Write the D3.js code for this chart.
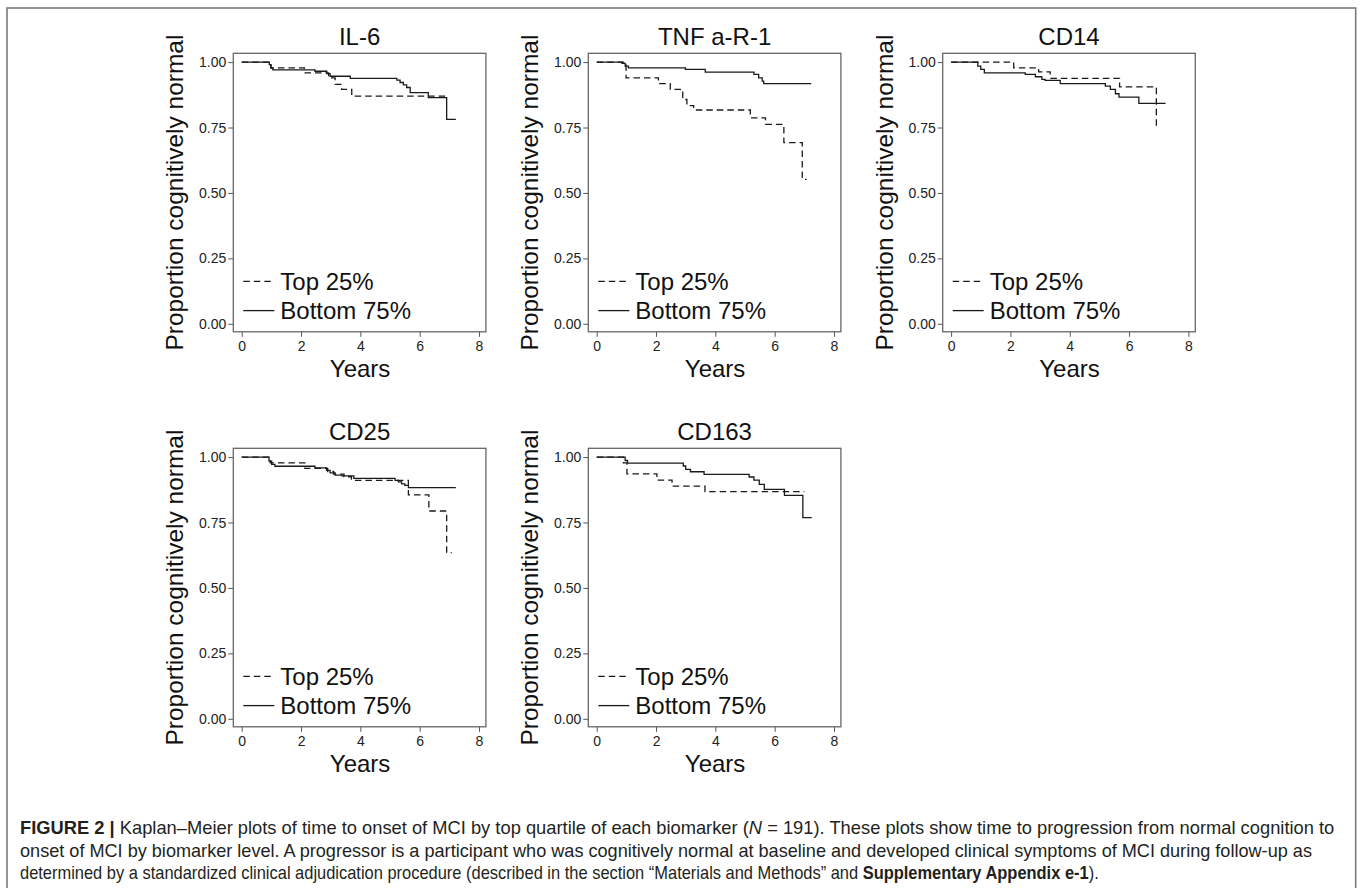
<!DOCTYPE html>
<html><head><meta charset="utf-8">
<script src="https://cdn.jsdelivr.net/npm/d3@7"></script>
<style>
html,body{margin:0;padding:0;background:#fff;}
svg{display:block;}
</style>
</head><body>
<svg id="chart" width="1360" height="888"></svg>
<script>
// ---------- DATA ----------
const panelTitles = ["IL-6", "TNF a-R-1", "CD14", "CD25", "CD163"];
const seriesNames = ["Top 25%", "Bottom 75%"];
const xTicks = [0, 2, 4, 6, 8];
const yTicks = [0, 0.25, 0.5, 0.75, 1];

// Kaplan–Meier step points [years, proportion]; last point marks end of follow-up
const il6Top = [[0,1],[0.99,0.978],[2.11,0.959],[2.93,0.94],[3.15,0.915],[3.37,0.896],[3.71,0.870],[6.97,0.870]];
const il6Bottom = [[0,1],[0.93,0.99],[0.98,0.977],[1.05,0.970],[2.47,0.965],[2.87,0.956],[2.98,0.946],[3.66,0.938],[5.23,0.931],[5.34,0.922],[5.45,0.913],[5.56,0.903],[5.68,0.883],[6.29,0.864],[6.91,0.781],[7.22,0.781]];

const tnfTop = [[0,1],[0.99,0.94],[2.08,0.918],[2.48,0.896],[2.9,0.857],[3.04,0.834],[3.27,0.817],[5.18,0.787],[5.69,0.762],[6.31,0.692],[6.93,0.552],[7.08,0.552]];
const tnfBottom = [[0,1],[0.85,0.995],[0.96,0.985],[1.07,0.978],[2.99,0.972],[3.66,0.962],[5.3,0.953],[5.46,0.94],[5.58,0.927],[5.63,0.918],[7.23,0.918]];

const cd14Top = [[0,1],[2.11,0.978],[2.95,0.963],[3.34,0.938],[5.68,0.905],[6.92,0.755],[7.04,0.755]];
const cd14Bottom = [[0,1],[0.9,0.985],[1.0,0.972],[1.12,0.959],[2.5,0.953],[2.84,0.944],[3.06,0.934],[3.17,0.930],[3.68,0.918],[5.2,0.908],[5.37,0.896],[5.54,0.879],[5.66,0.866],[6.33,0.842],[7.23,0.842]];

const cd25Top = [[0,1],[0.96,0.978],[2.13,0.957],[2.9,0.945],[3.1,0.935],[3.45,0.925],[3.7,0.911],[5.62,0.856],[6.31,0.794],[6.91,0.635],[7.08,0.635]];
const cd25Bottom = [[0,1],[0.92,0.985],[1.01,0.972],[1.12,0.965],[2.47,0.959],[2.86,0.949],[2.98,0.940],[3.15,0.931],[3.38,0.928],[3.78,0.919],[5.17,0.911],[5.28,0.905],[5.39,0.898],[5.5,0.892],[5.62,0.883],[7.22,0.883]];

const cd163Top = [[0,1],[0.9,0.978],[1.02,0.936],[2.03,0.912],[2.54,0.889],[3.65,0.868],[7.0,0.868]];
const cd163Bottom = [[0,1],[0.96,0.987],[1.04,0.977],[2.92,0.966],[3.0,0.953],[3.16,0.944],[3.62,0.934],[5.14,0.924],[5.3,0.912],[5.48,0.896],[5.65,0.877],[6.33,0.854],[6.95,0.769],[7.25,0.769]];

const panelSeries = [
  [il6Top, il6Bottom],
  [tnfTop, tnfBottom],
  [cd14Top, cd14Bottom],
  [cd25Top, cd25Bottom],
  [cd163Top, cd163Bottom]
];

const captionLines = [
  [{t:"FIGURE 2 | ", b:true},{t:"Kaplan–Meier plots of time to onset of MCI by top quartile of each biomarker ("},{t:"N", i:true},{t:" = 191). These plots show time to progression from normal cognition to"}],
  [{t:"onset of MCI by biomarker level. A progressor is a participant who was cognitively normal at baseline and developed clinical symptoms of MCI during follow-up as"}],
  [{t:"determined by a standardized clinical adjudication procedure (described in the section “Materials and Methods” and "},{t:"Supplementary Appendix e-1", b:true},{t:")."}]
];

// ---------- LAYOUT ----------
const svg = d3.select("#chart");
const FONT = "Arial, 'Liberation Sans', Helvetica, sans-serif";
const colLeft = [233.3, 588.3, 942.7];
const rowTop = [53.3, 448.3];
const boxW = 252.6, boxH = 278.5;
const dashes = ["6.5,4", null];

// outer frame
svg.append("rect").attr("x",7).attr("y",8).attr("width",1348.7).attr("height",900)
  .attr("fill","none").attr("stroke","#7a7a7a").attr("stroke-width",1.6);

panelTitles.forEach((title, i) => {
  const left = colLeft[i % 3], top = rowTop[Math.floor(i / 3)];
  const g = svg.append("g").attr("transform", `translate(${left},${top})`);
  const x = d3.scaleLinear().domain([0, 8]).range([8.4, 245.7]);
  const y = d3.scaleLinear().domain([0, 1]).range([270.5, 8.8]);

  // y axis
  const ya = g.append("g").call(d3.axisLeft(y).tickValues(yTicks).tickFormat(d3.format(".2f")).tickSize(5).tickPadding(2));
  ya.select(".domain").remove();
  ya.selectAll("line").attr("stroke","#555").attr("stroke-width",1);
  ya.selectAll("text").attr("font-family",FONT).attr("font-size",14).attr("fill","#222");

  // x axis
  const xa = g.append("g").attr("transform",`translate(0,${boxH})`)
    .call(d3.axisBottom(x).tickValues(xTicks).tickFormat(d3.format("d")).tickSize(5).tickPadding(4));
  xa.select(".domain").remove();
  xa.selectAll("line").attr("stroke","#555").attr("stroke-width",1);
  xa.selectAll("text").attr("font-family",FONT).attr("font-size",14).attr("fill","#222");

  // box
  g.append("rect").attr("x",0).attr("y",0).attr("width",boxW).attr("height",boxH)
    .attr("fill","none").attr("stroke","#666").attr("stroke-width",1.3);

  // curves
  const line = d3.line().x(d => x(d[0])).y(d => y(d[1])).curve(d3.curveStepAfter);
  panelSeries[i].forEach((s, k) => {
    g.append("path").datum(s).attr("d", line).attr("fill","none")
      .attr("stroke","#1a1a1a").attr("stroke-width",1.3)
      .attr("stroke-dasharray", dashes[k]);
  });

  // title
  g.append("text").attr("x", boxW/2).attr("y", -8).attr("text-anchor","middle")
    .attr("font-family",FONT).attr("font-size",24).attr("fill","#111").text(title);
  // x title
  g.append("text").attr("x", boxW/2 + 0.5).attr("y", boxH + 45).attr("text-anchor","middle")
    .attr("font-family",FONT).attr("font-size",24).attr("fill","#111").text("Years");
  // y title
  g.append("text").attr("transform",`translate(-50,${boxH/2}) rotate(-90)`).attr("text-anchor","middle")
    .attr("font-family",FONT).attr("font-size",24.5).attr("fill","#111").text("Proportion cognitively normal");

  // legend
  seriesNames.forEach((nm, k) => {
    const by = boxH - 42 + k * 29.3;
    g.append("line").attr("x1",10).attr("x2",41).attr("y1",by-8.5).attr("y2",by-8.5)
      .attr("stroke","#1a1a1a").attr("stroke-width",1.3).attr("stroke-dasharray", dashes[k]);
    g.append("text").attr("x",47).attr("y",by).attr("font-family",FONT).attr("font-size",24)
      .attr("fill","#111").text(nm);
  });
});

// caption: each line horizontally scaled to match the reference's narrow face
const capBase = [834, 856.5, 879];
const capWidth = [1315, 1293, 1080];
captionLines.forEach((parts, li) => {
  const lg = svg.append("g");
  const t = lg.append("text").attr("x",0).attr("y",0)
    .attr("font-family",FONT).attr("font-size",17.5).attr("fill","#231f20");
  parts.forEach(p => {
    const ts = t.append("tspan").text(p.t);
    if (p.b) ts.attr("font-weight","bold");
    if (p.i) ts.attr("font-style","italic");
  });
  const w = t.node().getComputedTextLength();
  const sx = capWidth[li] / w;
  lg.attr("transform", `translate(20,${capBase[li]}) scale(${sx},1)`);
});
</script>
</body></html>
